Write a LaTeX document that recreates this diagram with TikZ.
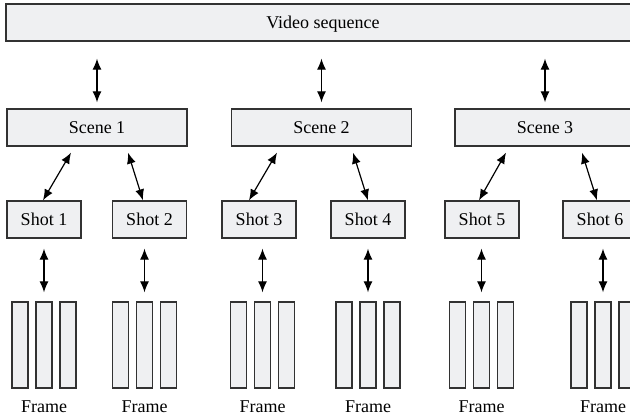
\documentclass[tikz,border=0pt]{standalone}
\usepackage{fontspec}
\setmainfont{Liberation Serif}
\usetikzlibrary{arrows.meta,calc}
\definecolor{boxfill}{RGB}{239,240,242}
\definecolor{edgecol}{RGB}{50,50,50}
\begin{document}
\begin{tikzpicture}[x=1pt,y=-1pt,
  box/.style={draw=edgecol, fill=boxfill, line width=1.3pt, inner sep=0pt,
    text height=12pt, text depth=0pt, font=\fontsize{18}{20}\selectfont, minimum height=37pt},
  bar/.style={draw=edgecol, fill=boxfill, line width=1.3pt, minimum width=16pt,
    minimum height=86pt, inner sep=0pt},
  lbl/.style={font=\fontsize{18}{20}\selectfont, anchor=base, inner sep=0pt},
  link/.style={line width=1.2pt, {Latex[length=11pt,width=9pt]}-{Latex[length=11pt,width=9pt]}}]
\useasboundingbox (0,0) rectangle (630,419);

% top
\node[box, minimum width=634pt] (vid) at (323,22.5) {Video sequence};

% scenes
\node[box, minimum width=180pt] (sc1) at (97,127.5) {Scene 1};
\node[box, minimum width=180pt] (sc2) at (321.5,127.5) {Scene 2};
\node[box, minimum width=180pt] (sc3) at (545,127.5) {Scene 3};

% shots
\node[box, minimum width=74pt] (s1) at (44,219.5) {Shot 1};
\node[box, minimum width=74pt] (s2) at (149.5,219.5) {Shot 2};
\node[box, minimum width=74pt] (s3) at (259,219.5) {Shot 3};
\node[box, minimum width=74pt] (s4) at (368,219.5) {Shot 4};
\node[box, minimum width=74pt] (s5) at (482,219.5) {Shot 5};
\node[box, minimum width=74pt] (s6) at (600,219.5) {Shot 6};

% frames
\foreach \i/\m in {1/44,2/144.5,3/262.5,4/368,5/481.5,6/603}{
  \node[bar] (fa\i) at (\m-24,345) {};
  \node[bar] (fb\i) at (\m,345) {};
  \node[bar] (fc\i) at (\m+24,345) {};
  \node[lbl] (lb\i) at (\m,413) {Frame};
}

% video <-> scenes
\foreach \i in {1,2,3}{
  \draw[link, shorten <=17pt, shorten >=6pt] (vid.south -| sc\i.north) -- (sc\i.north);
}

% scenes <-> shots
\draw[link] ($(sc1.south)+(-26,6)$) -- ($(s1.north)+(-1,0)$);
\draw[link] ($(sc1.south)+(31,6)$) -- ($(s2.north)+(-6.5,0)$);
\draw[link] ($(sc2.south)+(-44.5,6)$) -- ($(s3.north)+(-10,0)$);
\draw[link] ($(sc2.south)+(31.5,6)$) -- ($(s4.north)+(0,0)$);
\draw[link] ($(sc3.south)+(-39,6)$) -- ($(s5.north)+(-3,0)$);
\draw[link] ($(sc3.south)+(37,6)$) -- ($(s6.north)+(-3,0)$);

% shots <-> frames
\foreach \i in {1,...,6}{
  \draw[link, shorten <=10pt, shorten >=9pt] (s\i.south -| fb\i.north) -- (fb\i.north);
}
\end{tikzpicture}
\end{document}
